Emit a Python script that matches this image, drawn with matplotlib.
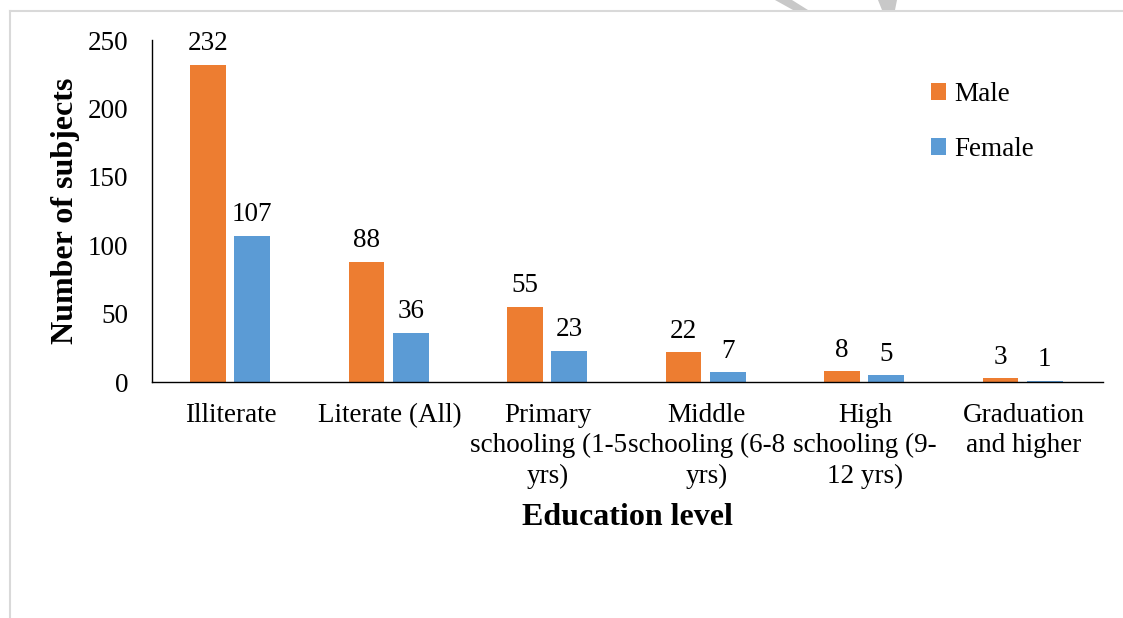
import numpy as np
import matplotlib
matplotlib.use("Agg")
import matplotlib.pyplot as plt
from matplotlib.patches import Polygon

plt.rcParams["font.family"] = ["Liberation Serif", "DejaVu Serif"]

categories = ["Illiterate", "Literate (All)", "Primary\nschooling (1-5\nyrs)",
              "Middle\nschooling (6-8\nyrs)", "High\nschooling (9-\n12 yrs)",
              "Graduation\nand higher"]
male = [232, 88, 55, 22, 8, 3]
female = [107, 36, 23, 7, 5, 1]

orange = "#ED7D31"
blue = "#5B9BD5"

W, H = 1123, 618
fig = plt.figure(figsize=(W / 100, H / 100), dpi=100)
ax = fig.add_axes([152 / W, 1 - 382 / H, (1103 - 152) / W, (382 - 40) / H])

x = np.arange(len(categories))
w = 0.225
b1 = ax.bar(x - 0.146, male, w, color=orange, label="Male")
b2 = ax.bar(x + 0.133, female, w, color=blue, label="Female")

for bars in (b1, b2):
    for r in bars:
        ax.annotate(f"{int(r.get_height())}", (r.get_x() + r.get_width() / 2, r.get_height()),
                    xytext=(0, 6), textcoords="offset points",
                    ha="center", va="bottom", fontsize=19.5)

ax.set_xlim(-0.5, len(categories) - 0.5)
ax.set_ylim(0, 250)
ax.set_yticks(range(0, 251, 50))
ax.set_xticks(x)
ax.set_xticklabels(categories, fontsize=19.5, linespacing=1.28)
ax.tick_params(axis="y", length=0, labelsize=19.5, pad=17)
ax.tick_params(axis="x", length=0, pad=15)
for s in ("top", "right"):
    ax.spines[s].set_visible(False)
ax.spines["left"].set_linewidth(1.0)
ax.spines["bottom"].set_linewidth(1.0)

ax.set_ylabel("Number of subjects", fontsize=23, fontweight="bold", labelpad=5.5)
ax.set_xlabel("Education level", fontsize=23, fontweight="bold", labelpad=10.5)

ax.legend(loc="center left", bbox_to_anchor=(755 / 951, 0.76), frameon=False, fontsize=19.5,
          handlelength=0.55, handleheight=0.55, handletextpad=0.3, labelspacing=1.1)

# chart frame and the faint strokes above it
px = lambda xp, yp: (xp / W, 1 - yp / H)
fig.add_artist(plt.Line2D([9.5 / W, 9.5 / W], [0, 1 - 11 / H], color="#d9d9d9", lw=1.5))
fig.add_artist(plt.Line2D([9.5 / W, 1], [1 - 11 / H, 1 - 11 / H], color="#d9d9d9", lw=1.5))
fig.add_artist(Polygon([px(775, 0), px(792, 0), px(808, 10), px(793, 10)],
                       closed=True, color="#c8c8c8", lw=0))
fig.add_artist(Polygon([px(878, 0), px(897, 0), px(895, 10), px(882, 10)],
                       closed=True, color="#c8c8c8", lw=0))

fig.savefig("out.png", dpi=100)
